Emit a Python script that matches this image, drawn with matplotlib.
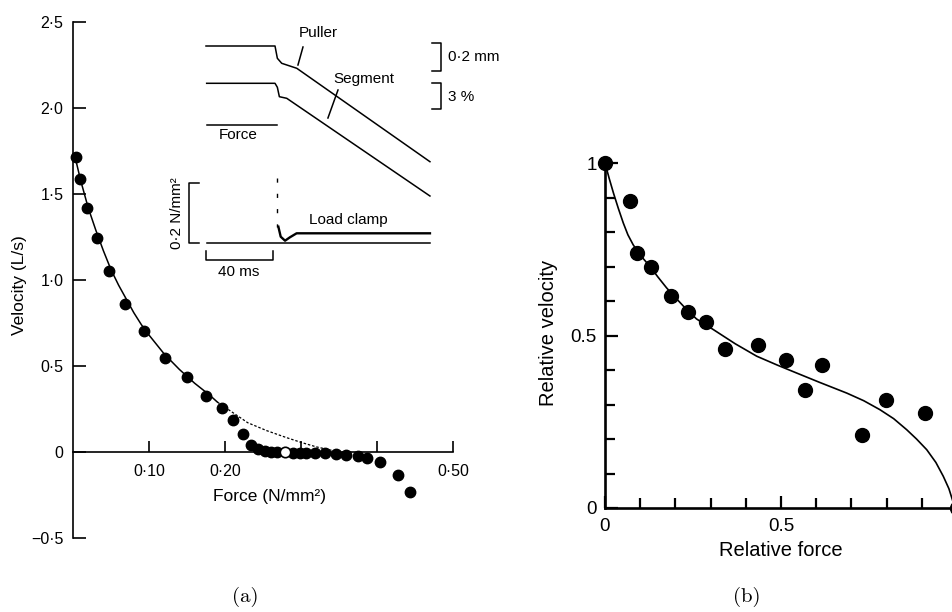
import matplotlib
matplotlib.use('Agg')
import matplotlib.pyplot as plt

W, H = 953, 612
plt.rcParams['font.family'] = ['Liberation Sans', 'DejaVu Sans']

# (a) force-velocity
force_a = [0.004, 0.009, 0.019, 0.031, 0.047, 0.068, 0.094, 0.121, 0.150, 0.175,
           0.196, 0.210, 0.224, 0.234, 0.244, 0.253, 0.261, 0.269, 0.290, 0.299,
           0.307, 0.318, 0.332, 0.346, 0.359, 0.375, 0.387, 0.404, 0.427, 0.443]
vel_a = [1.715, 1.59, 1.417, 1.244, 1.054, 0.860, 0.702, 0.547, 0.438, 0.327,
         0.254, 0.188, 0.105, 0.041, 0.017, 0.008, 0.002, -0.002, -0.006, -0.006,
         -0.006, -0.006, -0.006, -0.012, -0.017, -0.025, -0.037, -0.060, -0.134, -0.235]
open_force = [0.279]
open_vel = [-0.002]
fit_force = [0.003, 0.01, 0.02, 0.03, 0.04, 0.05, 0.06, 0.07, 0.08, 0.09, 0.10,
             0.12, 0.14, 0.16, 0.18, 0.19]
fit_vel = [1.71, 1.58, 1.42, 1.29, 1.17, 1.06, 0.97, 0.89, 0.81, 0.74, 0.68,
           0.57, 0.48, 0.40, 0.33, 0.29]
ext_force = [0.19, 0.21, 0.23, 0.255, 0.28, 0.30, 0.32, 0.34, 0.355]
ext_vel = [0.29, 0.23, 0.17, 0.124, 0.085, 0.056, 0.03, 0.01, 0.0]
yticks_a = [-0.5, 0, 0.5, 1.0, 1.5, 2.0, 2.5]
ylabels_a = ['\u22120\u00b75', '0', '0\u00b75', '1\u00b70', '1\u00b75', '2\u00b70', '2\u00b75']
xticks_a = [0.1, 0.2, 0.3, 0.4, 0.5]
xlabels_a = ['0\u00b710', '0\u00b720', '', '', '0\u00b750']

# inset traces (time in ms, trace height)
puller_t = [0, 41.2, 42.6, 45.2, 54.2, 133.7]
puller_y = [239, 239, 226.7, 221.7, 216.7, 123.3]
segment_t = [0.4, 41.2, 42.6, 43.8, 48.2, 133.7]
segment_y = [201.7, 201.7, 197.7, 188.3, 186.7, 89]
force_t = [0.4, 42.6]
force_y = [160, 160]
base_t = [0.4, 133.7]
base_y = [42.3, 42.3]
clamp_t = [43.2, 44.6, 47.2, 50.1, 54.1, 133.7]
clamp_y = [58.3, 48.3, 44.3, 47.7, 51.7, 51.7]
spike_t = [42.6, 42.6]
spike_y = [106.7, 58.3]

# (b) relative force-velocity
force_b = [0.0, 0.071, 0.092, 0.130, 0.187, 0.235, 0.287, 0.341, 0.434, 0.514,
           0.568, 0.617, 0.729, 0.798, 0.909, 1.0]
vel_b = [1.0, 0.889, 0.739, 0.700, 0.614, 0.567, 0.538, 0.461, 0.473, 0.428,
         0.343, 0.415, 0.213, 0.314, 0.275, 0.0]
curve_fb = [0.0, 0.012, 0.024, 0.038, 0.052, 0.065, 0.080, 0.100, 0.128, 0.150,
            0.175, 0.200, 0.232, 0.260, 0.308, 0.370, 0.431, 0.490, 0.545, 0.610,
            0.687, 0.735, 0.781, 0.820, 0.857, 0.885, 0.914, 0.940, 0.961, 0.977,
            0.990, 1.0]
curve_vb = [1.0, 0.955, 0.913, 0.868, 0.826, 0.792, 0.763, 0.733, 0.700, 0.670,
            0.638, 0.610, 0.575, 0.548, 0.517, 0.476, 0.440, 0.414, 0.391, 0.364,
            0.333, 0.311, 0.285, 0.259, 0.227, 0.200, 0.169, 0.132, 0.092, 0.056,
            0.014, 0.0]


def px(x, y):
    return x / W, 1 - y / H


fig = plt.figure(figsize=(W / 100, H / 100), dpi=100)

# ---- panel (a)
ax = fig.add_axes([73 / W, 1 - 538 / H, 380 / W, 516 / H])
ax.set_xlim(0, 0.5)
ax.set_ylim(-0.5, 2.5)
for s in ['top', 'right']:
    ax.spines[s].set_visible(False)
ax.spines['bottom'].set_position(('data', 0))
ax.spines['bottom'].set_bounds(0, 0.5)
ax.spines['left'].set_linewidth(1.2)
ax.spines['bottom'].set_linewidth(1.2)
ax.set_yticks(yticks_a)
ax.set_yticklabels(ylabels_a)
ax.set_xticks(xticks_a)
ax.set_xticklabels(xlabels_a)
ax.tick_params(axis='y', direction='in', length=9, width=1.2, pad=7, labelsize=11.5)
ax.tick_params(axis='x', direction='in', length=8, width=1.2, pad=9, labelsize=11.5)
ax.plot(fit_force, fit_vel, color='black', lw=1.1, clip_on=False)
ax.plot(ext_force, ext_vel, color='black', lw=0.9, ls=(0, (2, 1.5)), clip_on=False)
ax.plot(force_a, vel_a, 'o', color='black', ms=7.5, clip_on=False)
ax.plot(open_force, open_vel, 'o', mfc='white', mec='black', mew=1.2, ms=7.5,
        clip_on=False, zorder=5)
ax.text(0.259, -0.256, 'Force (N/mm\u00b2)', ha='center', va='center', fontsize=12.5)
fig.text(*px(20, 285), 'Velocity (L/s)', rotation=90, ha='center', va='center', fontsize=12.5)

# ---- inset traces
ins = fig.add_axes([160 / W, 1 - 285 / H, 300 / W, 265 / H])
ins.set_xlim((160 - 206) / 1.675, (460 - 206) / 1.675)
ins.set_ylim(0, 265)
ins.axis('off')
k = dict(color='black', lw=1.1, clip_on=False)
ins.plot(puller_t, puller_y, **k)
ins.plot(segment_t, segment_y, **k)
ins.plot(force_t, force_y, **k)
ins.plot(base_t, base_y, **k)
ins.plot(clamp_t, clamp_y, color='black', lw=1.7, clip_on=False)
ins.plot(spike_t, spike_y, color='black', lw=1.0, ls=(0, (3, 8)))
# leaders
ins.plot([57.9, 54.9], [238, 220], **k)
ins.plot([78.8, 72.8], [195, 167], **k)
# scale bars
ins.plot([0, 0, 40, 40], [34, 25, 25, 34], **k)
ins.plot([-4.2, -10.1, -10.1, -4.2], [102, 102, 42, 42], **k)
ins.plot([134.9, 140.3, 140.3, 134.9], [242, 242, 214, 214], **k)
ins.plot([134.9, 140.3, 140.3, 134.9], [202, 202, 176, 176], **k)
tk = dict(fontsize=11, va='center')
ins.text(66.9, 252, 'Puller', ha='center', **tk)
ins.text(94.3, 206, 'Segment', ha='center', **tk)
ins.text(19.1, 150, 'Force', ha='center', **tk)
ins.text(84.8, 65, 'Load clamp', ha='center', **tk)
ins.text(19.7, 13, '40 ms', ha='center', **tk)
ins.text(144.5, 228, '0\u00b72 mm', ha='left', **tk)
ins.text(144.5, 188, '3 %', ha='left', **tk)
ins.text(-17.3, 72, '0\u00b72 N/mm\u00b2', ha='center', rotation=90, **tk)

# ---- panel (b)
bx = fig.add_axes([605 / W, 1 - 508 / H, 352 / W, 345 / H])
bx.set_xlim(0, 1)
bx.set_ylim(0, 1)
for s in ['top', 'right']:
    bx.spines[s].set_visible(False)
for s in ['left', 'bottom']:
    bx.spines[s].set_linewidth(1.9)
bx.set_xticks([0, 0.5, 1.0])
bx.set_xticklabels(['0', '0.5', ''])
bx.set_yticks([0, 0.5, 1.0])
bx.set_yticklabels(['0', '0.5', '1'])
bx.set_xticks([i / 10 for i in range(11)], minor=True)
bx.set_yticks([i / 10 for i in range(11)], minor=True)
bx.tick_params(which='major', direction='in', length=9, width=1.6, labelsize=13.5)
bx.tick_params(which='minor', direction='in', length=7, width=1.6)
bx.tick_params(axis='y', pad=6)
bx.tick_params(axis='x', pad=7)
bx.plot(curve_fb, curve_vb, color='black', lw=1.2, clip_on=False)
bx.plot(force_b, vel_b, 'o', color='black', ms=10, clip_on=False)
fig.text(*px(781, 550), 'Relative force', ha='center', va='center', fontsize=14.5)
fig.text(*px(548, 333), 'Relative velocity', rotation=90, ha='center', va='center', fontsize=14.5)

# captions
fig.text(*px(245, 597), '(a)', ha='center', va='center', fontsize=15, family='cmr10')
fig.text(*px(747, 597), '(b)', ha='center', va='center', fontsize=15, family='cmr10')

fig.savefig('out.png', dpi=100)
